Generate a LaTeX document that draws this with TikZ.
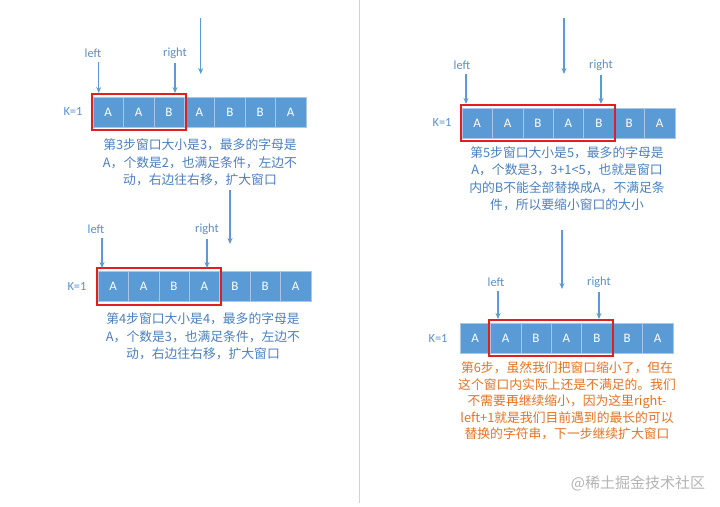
\documentclass[tikz,border=0pt]{standalone}
\usepackage{fontspec}
\setmainfont{Carlito}
\newfontfamily\cjkfont{Noto Sans CJK SC}
\usetikzlibrary{arrows.meta,fit,calc}
\definecolor{cellblue}{HTML}{5B9BD5}
\definecolor{cellline}{HTML}{A9C6E8}
\definecolor{noteblue}{HTML}{4A80C2}
\definecolor{lblblue}{HTML}{5A8FCC}
\definecolor{noteorange}{HTML}{E8711F}
\definecolor{winred}{HTML}{E02020}
\definecolor{divgray}{HTML}{D2D2D2}
\definecolor{wmgray}{HTML}{B4B4B4}
\begin{document}
\begin{tikzpicture}[x=1pt,y=-1pt,
  cell/.style={rectangle,fill=cellblue,draw=cellline,line width=0.6pt,minimum width=30.4pt,minimum height=30pt,inner sep=0pt,text=white,font=\fontsize{13}{15}\selectfont},
  win/.style={draw=winred,line width=2pt,inner xsep=1pt,inner ysep=3pt},
  ptrlbl/.style={text=lblblue,font=\fontsize{12.4}{14}\selectfont,inner sep=1pt},
  klbl/.style={text=lblblue,font=\fontsize{12.4}{14}\selectfont,inner sep=0pt},
  ptr/.style={draw=cellblue,line width=1.3pt,-{Stealth[length=6pt,width=5pt]},shorten <=3pt},
  gap/.style={draw=cellblue,line width=1.3pt,-{Stealth[length=6pt,width=5pt]}},
  note/.style={align=center,text=noteblue,font=\cjkfont\fontsize{12.8}{17.5}\selectfont,inner sep=0pt},
  noteo/.style={note,text=noteorange,font=\cjkfont\fontsize{12.8}{16.6}\selectfont}
]
\useasboundingbox (0,0) rectangle (720,506);
\fill[white] (0,0) rectangle (720,506);
% divider
\draw[divgray,line width=1pt] (359,0) -- (359,503);

% ---------- panel 1 (step 3) ----------
\node[klbl] (k1) at (73,112) {K=1};
\foreach \ch [count=\i] in {A,A,B,A,B,B,A}
  \node[cell] (a\i) at (93+15.2+30.4*\i-30.4,112) {\ch};
\node[win,fit=(a1)(a3)] (w1) {};
\node[ptrlbl] (la) at (93,53) {left};
\coordinate (lae) at (98.7,93);
\draw[ptr] (la.south -| lae) -- (lae);
\node[ptrlbl] (ra) at (175,53) {right};
\coordinate (rae) at (175,93);
\draw[ptr] (ra.south -| rae) -- (rae);
\coordinate (gas) at (200.7,18);
\coordinate (gae) at (200.7,74);
\draw[gap] (gas) -- (gae);
\node[note] (na) at (200,162.5) {第3步窗口大小是3，最多的字母是\\A，个数是2，也满足条件，左边不\\动，右边往右移，扩大窗口};

% ---------- panel 2 (step 4) ----------
\node[klbl] (k2) at (77,287) {K=1};
\foreach \ch [count=\i] in {A,A,B,A,B,B,A}
  \node[cell] (b\i) at (98+15.2+30.4*\i-30.4,286.5) {\ch};
\node[win,fit=(b1)(b4)] (w2) {};
\node[ptrlbl] (lb) at (96,229) {left};
\coordinate (lbe) at (102,268);
\draw[ptr] (lb.south -| lbe) -- (lbe);
\node[ptrlbl] (rb) at (207,229) {right};
\coordinate (rbe) at (207,268);
\draw[ptr] (rb.south -| rbe) -- (rbe);
\coordinate (gbs) at (230,190);
\coordinate (gbe) at (230,244);
\draw[gap] (gbs) -- (gbe);
\node[note] (nb) at (203,336.5) {第4步窗口大小是4，最多的字母是\\A，个数是3，也满足条件，左边不\\动，右边往右移，扩大窗口};

% ---------- panel 3 (step 5) ----------
\node[klbl] (k3) at (442,123) {K=1};
\foreach \ch [count=\i] in {A,A,B,A,B,B,A}
  \node[cell] (c\i) at (462+15.2+30.4*\i-30.4,123) {\ch};
\node[win,fit=(c1)(c5)] (w3) {};
\node[ptrlbl] (lc) at (462,65) {left};
\coordinate (lce) at (466,104);
\draw[ptr] (lc.south -| lce) -- (lce);
\node[ptrlbl] (rc) at (601,65) {right};
\coordinate (rce) at (601,104);
\draw[ptr] (rc.south -| rce) -- (rce);
\coordinate (gcs) at (564,18);
\coordinate (gce) at (564,74);
\draw[gap] (gcs) -- (gce);
\node[note] (nc) at (567,179) {第5步窗口大小是5，最多的字母是\\A，个数是3，3+1<5，也就是窗口\\内的B不能全部替换成A，不满足条\\件，所以要缩小窗口的大小};

% ---------- panel 4 (step 6) ----------
\node[klbl] (k4) at (438,339) {K=1};
\foreach \ch [count=\i] in {A,A,B,A,B,B,A}
  \node[cell] (d\i) at (460+15.2+30.4*\i-30.4,338) {\ch};
\node[win,fit=(d2)(d5)] (w4) {};
\node[ptrlbl] (ld) at (496,282) {left};
\coordinate (lde) at (498,319);
\draw[ptr] (ld.south -| lde) -- (lde);
\node[ptrlbl] (rd) at (599,282) {right};
\coordinate (rde) at (599,319);
\draw[ptr] (rd.south -| rde) -- (rde);
\coordinate (gds) at (562,230);
\coordinate (gde) at (562,289);
\draw[gap] (gds) -- (gde);
\node[noteo] (nd) at (567,401) {第6步，虽然我们把窗口缩小了，但在\\这个窗口内实际上还是不满足的。我们\\不需要再继续缩小，因为这里right-\\left+1就是我们目前遇到的最长的可以\\替换的字符串，下一步继续扩大窗口};

% watermark
\node[text=wmgray,font=\cjkfont\fontsize{15}{17}\selectfont,inner sep=0pt] (wm) at (638,483) {@稀土掘金技术社区};
\end{tikzpicture}
\end{document}
